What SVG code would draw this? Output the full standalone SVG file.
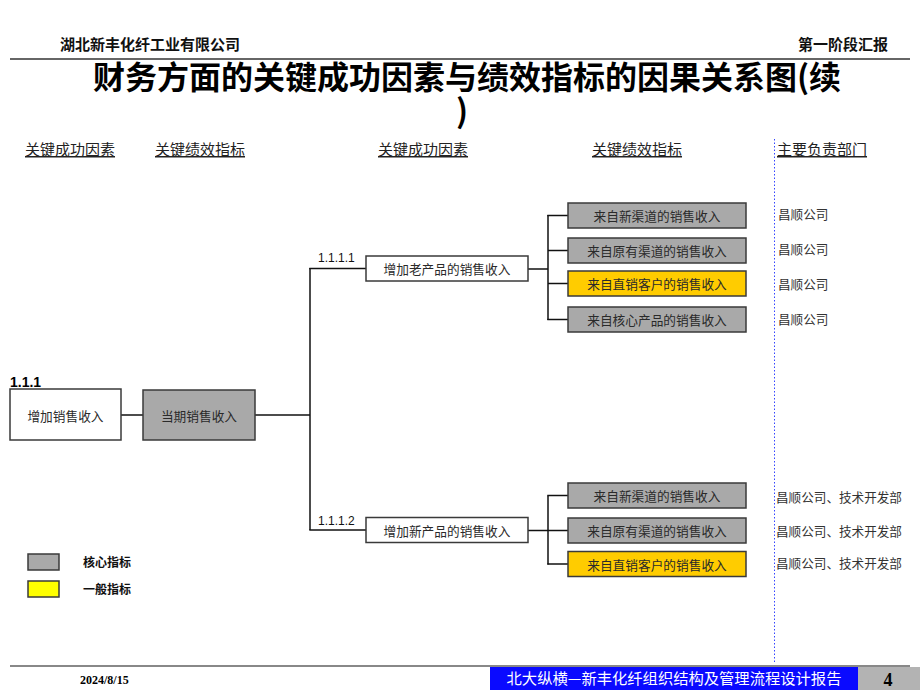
<svg xmlns="http://www.w3.org/2000/svg" width="920" height="690" viewBox="0 0 920 690">
<style>
.cjk{font-family:"Noto Sans CJK SC","Noto Sans",sans-serif;}
.hdr{font-size:15px;fill:#222;text-decoration:underline;}
.box{stroke:#3a3a3a;stroke-width:1.5;}
.core{fill:#a9a9a9;}
.gen{fill:#ffcc00;}
.plain{fill:#ffffff;}
.bt{font-size:12.7px;fill:#2a2a2a;text-anchor:middle;dominant-baseline:central;}
.dept{font-size:12.6px;fill:#333;}
.num{font-family:"Liberation Sans",Arial,sans-serif;font-size:12px;fill:#111;}
.conn line{stroke:#111;stroke-width:1.5;}
</style>
<rect width="920" height="690" fill="#ffffff"/>

<!-- header -->
<g id="header">
<text x="60" y="50" class="cjk" font-size="15" font-weight="bold" fill="#111">湖北新丰化纤工业有限公司</text>
<text x="888" y="50" class="cjk" font-size="15" font-weight="bold" fill="#111" text-anchor="end">第一阶段汇报</text>
<line x1="10" y1="59" x2="910" y2="59" stroke="#333" stroke-width="1.5"/>
<text x="467" y="89" class="cjk" font-size="32" font-weight="bold" fill="#000" text-anchor="middle">财务方面的关键成功因素与绩效指标的因果关系图(续</text>
<text x="462" y="123" class="cjk" font-size="32" font-weight="bold" fill="#000" text-anchor="middle">)</text>
</g>

<!-- column headings -->
<g id="headings" class="cjk hdr">
<text x="25" y="155">关键成功因素</text>
<text x="155" y="155">关键绩效指标</text>
<text x="378" y="155">关键成功因素</text>
<text x="592" y="155">关键绩效指标</text>
<text x="777" y="155">主要负责部门</text>
</g>
<line x1="774.5" y1="139" x2="774.5" y2="664" stroke="#3344ff" stroke-width="1" stroke-dasharray="1.5,2"/>

<!-- connectors -->
<g id="connectors" class="conn">
<line x1="121" y1="415" x2="143" y2="415"/>
<line x1="255" y1="415" x2="310" y2="415"/>
<line x1="310" y1="268" x2="310" y2="530"/>
<line x1="309.3" y1="268.5" x2="366" y2="268.5"/>
<line x1="309.3" y1="530" x2="366" y2="530"/>
<line x1="528" y1="269" x2="548" y2="269"/>
<line x1="548" y1="215" x2="548" y2="320"/>
<line x1="547.3" y1="215.5" x2="568" y2="215.5"/>
<line x1="548" y1="250.5" x2="568" y2="250.5"/>
<line x1="548" y1="283.5" x2="568" y2="283.5"/>
<line x1="547.3" y1="319.5" x2="568" y2="319.5"/>
<line x1="528" y1="530.5" x2="548" y2="530.5"/>
<line x1="548" y1="495.5" x2="548" y2="564.5"/>
<line x1="547.3" y1="495.5" x2="568" y2="495.5"/>
<line x1="548" y1="530.5" x2="568" y2="530.5"/>
<line x1="547.3" y1="564" x2="568" y2="564"/>
</g>

<!-- left nodes -->
<g id="n-111">
<text x="10" y="387" font-family="Liberation Sans,Arial,sans-serif" font-size="14" font-weight="bold" fill="#000">1.1.1</text>
<rect class="box plain" x="10" y="389" width="111" height="51"/>
<text class="cjk bt" x="65.5" y="415">增加销售收入</text>
</g>
<g id="n-current">
<rect class="box core" x="143" y="390" width="112" height="50"/>
<text class="cjk bt" x="199" y="415">当期销售收入</text>
</g>

<!-- middle nodes -->
<g id="n-1111">
<text class="num" x="318" y="262">1.1.1.1</text>
<rect class="box plain" x="366" y="256" width="162" height="25"/>
<text class="cjk bt" x="447" y="268.5">增加老产品的销售收入</text>
</g>
<g id="n-1112">
<text class="num" x="318" y="525">1.1.1.2</text>
<rect class="box plain" x="366" y="517.5" width="162" height="25"/>
<text class="cjk bt" x="447" y="530">增加新产品的销售收入</text>
</g>

<!-- right nodes (top group) -->
<g id="k1">
<rect class="box core" x="568" y="203" width="178" height="25"/>
<text class="cjk bt" x="657" y="215.5">来自新渠道的销售收入</text>
<text class="cjk dept" x="778" y="219">昌顺公司</text>
</g>
<g id="k2">
<rect class="box core" x="568" y="238" width="178" height="25"/>
<text class="cjk bt" x="657" y="250.5">来自原有渠道的销售收入</text>
<text class="cjk dept" x="778" y="254">昌顺公司</text>
</g>
<g id="k3">
<rect class="box gen" x="568" y="271" width="178" height="25"/>
<text class="cjk bt" x="657" y="283.5">来自直销客户的销售收入</text>
<text class="cjk dept" x="778" y="289">昌顺公司</text>
</g>
<g id="k4">
<rect class="box core" x="568" y="307" width="178" height="25"/>
<text class="cjk bt" x="657" y="319.5">来自核心产品的销售收入</text>
<text class="cjk dept" x="778" y="324">昌顺公司</text>
</g>

<!-- right nodes (bottom group) -->
<g id="k5">
<rect class="box core" x="568" y="483" width="178" height="25"/>
<text class="cjk bt" x="657" y="495.5">来自新渠道的销售收入</text>
<text class="cjk dept" x="776" y="502">昌顺公司、技术开发部</text>
</g>
<g id="k6">
<rect class="box core" x="568" y="518" width="178" height="25"/>
<text class="cjk bt" x="657" y="530.5">来自原有渠道的销售收入</text>
<text class="cjk dept" x="776" y="536">昌顺公司、技术开发部</text>
</g>
<g id="k7">
<rect class="box gen" x="568" y="551.5" width="178" height="25"/>
<text class="cjk bt" x="657" y="564">来自直销客户的销售收入</text>
<text class="cjk dept" x="776" y="568">昌顺公司、技术开发部</text>
</g>

<!-- legend -->
<g id="legend">
<rect class="box core" x="28" y="554" width="31" height="16"/>
<text class="cjk" x="83" y="567" font-size="12" font-weight="bold" fill="#111">核心指标</text>
<rect class="box" x="28" y="581" width="31" height="16" fill="#ffff00"/>
<text class="cjk" x="83" y="594" font-size="12" font-weight="bold" fill="#111">一般指标</text>
</g>

<!-- footer -->
<g id="footer">
<line x1="10" y1="666" x2="910" y2="666" stroke="#888" stroke-width="2"/>
<text x="80" y="684" font-family="Liberation Serif,serif" font-size="12" font-weight="bold" fill="#000">2024/8/15</text>
<rect x="490" y="667" width="368" height="23" fill="#0a0aff"/>
<text x="674" y="684" class="cjk" font-size="15.3" fill="#ffffff" text-anchor="middle">北大纵横—新丰化纤组织结构及管理流程设计报告</text>
<rect x="858" y="667" width="62" height="23" fill="#b3b3b3"/>
<text x="888" y="686" font-family="Liberation Serif,serif" font-size="18" font-weight="bold" fill="#000" text-anchor="middle">4</text>
</g>
</svg>
